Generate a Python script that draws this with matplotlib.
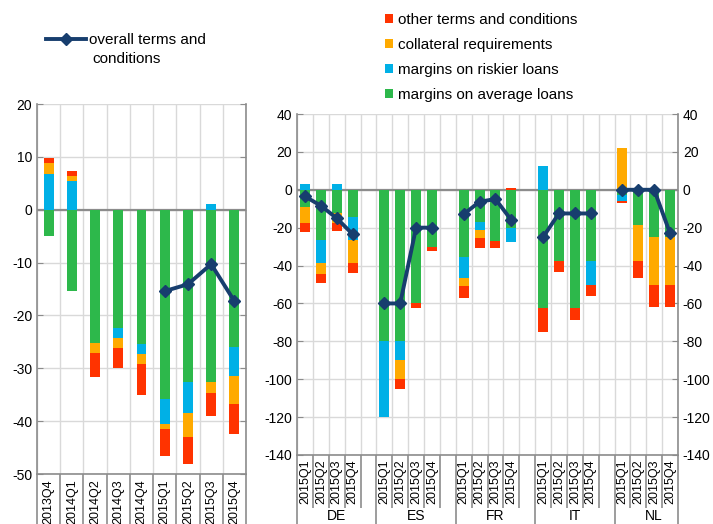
import numpy as np
import matplotlib
matplotlib.use('Agg')
import matplotlib.pyplot as plt
import matplotlib.transforms as mtransforms

plt.rcParams['font.family'] = ['Liberation Sans', 'DejaVu Sans']
plt.rcParams['axes.unicode_minus'] = False

# colores
c_verde = '#2DB84B'
c_azul = '#00B0E6'
c_naranja = '#FFAA00'
c_rojo = '#FF3300'
c_linea = '#173E6E'
c_gris = '#8C8C8C'
c_grid = '#D9D9D9'

# panel izquierdo: zona del euro
trimestres_izq = ['2013Q4', '2014Q1', '2014Q2', '2014Q3', '2014Q4',
                  '2015Q1', '2015Q2', '2015Q3', '2015Q4']
izq_promedio = [-4.9, -15.3, -25.3, -22.3, -25.4, -35.9, -32.5, -32.5, -26.0]
izq_riesgo = [6.8, 5.4, 0, -1.9, -1.9, -4.6, -5.9, 1.1, -5.5]
izq_colateral = [2.0, 1.0, -1.8, -1.9, -1.9, -0.9, -4.6, -2.1, -5.3]
izq_otros = [1.0, 0.9, -4.6, -3.8, -5.9, -5.2, -5.2, -4.5, -5.6]
izq_total = [np.nan, np.nan, np.nan, np.nan, np.nan, -15.4, -14.1, -10.3, -17.3]

# panel derecho: paises
paises = ['DE', 'ES', 'FR', 'IT', 'NL']
trimestres = ['2015Q1', '2015Q2', '2015Q3', '2015Q4']
der_promedio = [-9, -26.6, -12, -14.6,
                -80, -80, -60, -30,
                -35.7, -17, -27.1, -20.4,
                -62.5, -37.5, -62.5, -37.5,
                -3, -18.8, -25, -25]
der_riesgo = [3, -11.8, 3, -12,
              -40, -10, 0, 0,
              -11.1, -4.4, 0, -7.1,
              12.3, 0, 0, -12.5,
              -3, 0, 0, 0]
der_colateral = [-8.8, -5.8, -5.4, -12.3,
                 0, -10, 0, 0,
                 -4.1, -4.2, 0, 0,
                 0, 0, 0, 0,
                 22.3, -19, -25, -25]
der_otros = [-4.7, -5.2, -4.2, -4.9,
             0, -5, -2.5, -2.5,
             -6.1, -5.1, -3.4, 1.2,
             -12.5, -6, -6, -6,
             -1, -8.8, -11.8, -11.8]
der_total = [-3.5, -8.4, -15, -23.4,
             -60, -60, -20, -20,
             -12.9, -6.3, -4.9, -16,
             -25, -12.5, -12.5, -12.5,
             0, 0, 0, -23]

colores = [c_verde, c_azul, c_naranja, c_rojo]


def apilar(ax, x, series, ancho):
    pos = np.zeros(len(x))
    neg = np.zeros(len(x))
    barras = []
    for vals, c in zip(series, colores):
        vals = np.array(vals, dtype=float)
        base = np.where(vals >= 0, pos, neg)
        b = ax.bar(x, vals, ancho, bottom=base, color=c, zorder=3)
        barras.append(b)
        pos = pos + np.clip(vals, 0, None)
        neg = neg + np.clip(vals, None, 0)
    return barras


def estilo(ax):
    for lado in ['left', 'right', 'bottom']:
        ax.spines[lado].set_color(c_gris)
        ax.spines[lado].set_linewidth(1.2)
    ax.spines['top'].set_visible(False)
    ax.grid(True, which='both', color=c_grid, lw=1, zorder=0)
    ax.axhline(0, color=c_gris, lw=1.6, zorder=2)
    ax.tick_params(axis='y', direction='in', length=4, color=c_gris,
                   labelsize=10, left=True, right=True)
    ax.tick_params(axis='x', which='both', direction='out', color=c_gris,
                   width=1.2, labelbottom=False)


fig = plt.figure(figsize=(7.13, 5.24), dpi=100)

# ---- panel izquierdo
ax1 = fig.add_axes([37 / 713, 1 - 474 / 524, 209 / 713, 370 / 524])
x1 = np.arange(len(trimestres_izq)) + 0.5
apilar(ax1, x1, [izq_promedio, izq_riesgo, izq_colateral, izq_otros], 0.43)
ax1.plot(x1, izq_total, color=c_linea, lw=2.8, marker='D', ms=6.5, zorder=4)
ax1.set_xlim(0, len(trimestres_izq))
ax1.set_ylim(-50, 20)
ax1.set_yticks(np.arange(-50, 21, 10))
ax1.set_xticks(np.arange(0, len(trimestres_izq) + 1))
estilo(ax1)
ax1.tick_params(axis='x', length=40)
tr1 = mtransforms.blended_transform_factory(ax1.transData, ax1.transAxes)
for xi, t in zip(x1, trimestres_izq):
    ax1.text(xi, -0.015, t, transform=tr1, rotation=90, ha='center',
             va='top', fontsize=9)

# ---- panel derecho
ax2 = fig.add_axes([297 / 713, 1 - 455 / 524, 381 / 713, 341 / 524])
x2 = []
for g in range(len(paises)):
    for q in range(len(trimestres)):
        x2.append(g * 5 + q + 0.5)
x2 = np.array(x2)
barras = apilar(ax2, x2, [der_promedio, der_riesgo, der_colateral, der_otros], 0.63)
linea = None
for g in range(len(paises)):
    sl = slice(g * 4, g * 4 + 4)
    linea, = ax2.plot(x2[sl], der_total[sl], color=c_linea, lw=2.8,
                      marker='D', ms=6.5, zorder=4)
ax2.set_xlim(0, 24)
ax2.set_ylim(-140, 40)
ax2.set_yticks(np.arange(-140, 41, 20))
largos = [0, 5, 10, 15, 20, 24]
cortos = [i for i in range(25) if i not in largos]
ax2.set_xticks(largos)
ax2.set_xticks(cortos, minor=True)
estilo(ax2)
ax2.tick_params(axis='y', labelright=True)
ax2.tick_params(axis='x', which='major', length=55)
ax2.tick_params(axis='x', which='minor', length=38)
tr2 = mtransforms.blended_transform_factory(ax2.transData, ax2.transAxes)
for xi, t in zip(x2, trimestres * len(paises)):
    ax2.text(xi, -0.012, t, transform=tr2, rotation=90, ha='center',
             va='top', fontsize=9)
for g, p in enumerate(paises):
    fig.text((297 + (g * 5 + 2.5) * 381 / 24) / 713, 1 - 516 / 524, p,
             ha='center', va='center', fontsize=10)

# leyendas
fig.legend(handles=[linea], labels=['overall terms and'],
           loc='upper left', bbox_to_anchor=(46 / 713, 1 - 33 / 524),
           frameon=False, fontsize=11, handlelength=2.6, handletextpad=0.2,
           borderaxespad=0, borderpad=0)
fig.text(92 / 713, 1 - 59 / 524, 'conditions', ha='left', va='center',
         fontsize=11)
fig.legend(handles=[barras[3], barras[2], barras[1], barras[0]],
           labels=['other terms and conditions', 'collateral requirements',
                   'margins on riskier loans', 'margins on average loans'],
           loc='upper left', bbox_to_anchor=(385 / 713, 1 - 13 / 524),
           frameon=False, fontsize=11, handlelength=0.55, handleheight=0.55,
           handletextpad=0.3, labelspacing=0.72, borderaxespad=0, borderpad=0)

fig.savefig('out.png', dpi=100)
